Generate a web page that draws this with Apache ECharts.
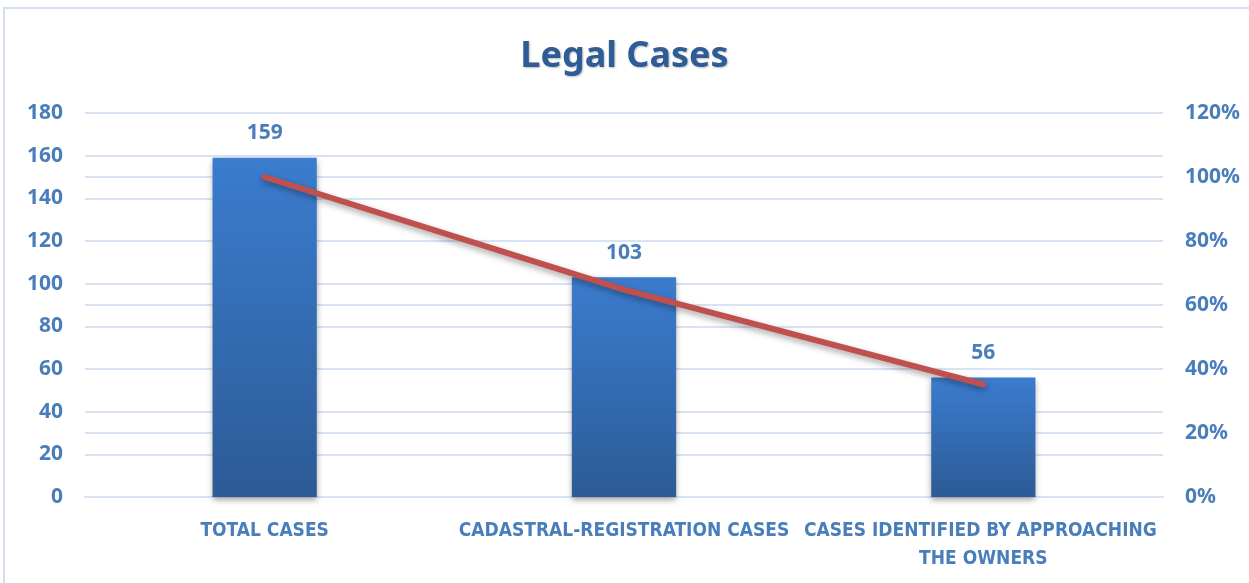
<!DOCTYPE html>
<html>
<head>
<meta charset="utf-8">
<script src="https://cdn.jsdelivr.net/npm/echarts@6/dist/echarts.min.js"></script>
<style>
    html, body { margin: 0; padding: 0; background: #fff; }
    #chart { width: 1249px; height: 583px; }
</style>
</head>
<body>
<div id="chart"></div>
<script>
// Legal Cases chart
var categories = ["TOTAL CASES", "CADASTRAL-REGISTRATION CASES", "CASES IDENTIFIED BY APPROACHING THE OWNERS"];
var caseCounts = [159, 103, 56];
var caseShares = [1.00, 0.648, 0.352];
var leftTicks = { min: 0, max: 180, interval: 20 };
var rightTicks = { min: 0, max: 1.2, interval: 0.2 };

var labelFont = "'DejaVu Sans Condensed', 'Liberation Sans Narrow', 'Noto Sans', sans-serif";
var labelColor = "#4a7ebb";
var gridColor = "#d8e4f3";

var myChart = echarts.init(document.getElementById('chart'));

var option = {
    animation: false,
    backgroundColor: "#fff",
    title: {
        text: "Legal Cases",
        left: "center",
        top: 34,
        textStyle: {
            fontFamily: "'Noto Sans', sans-serif",
            fontSize: 36,
            fontWeight: "bold",
            color: "#2e5c97",
            textShadowColor: "rgba(0,0,0,0.25)",
            textShadowBlur: 2,
            textShadowOffsetX: 1,
            textShadowOffsetY: 1
        }
    },
    graphic: [{
        type: "rect",
        shape: { x: 4, y: 8, width: 1300, height: 600 },
        style: { fill: "none", stroke: "#d4e0ef", lineWidth: 2 },
        silent: true
    }],
    grid: {
        left: 85,
        right: 86,
        top: 113,
        bottom: 86
    },
    xAxis: [{
        type: "category",
        data: categories,
        axisLine: { lineStyle: { color: gridColor, width: 2 } },
        axisTick: { show: false },
        axisLabel: {
            interval: 0,
            margin: 20,
            width: 380,
            overflow: "break",
            lineHeight: 28,
            fontFamily: labelFont,
            fontSize: 19,
            fontWeight: "bold",
            color: labelColor
        }
    }],
    yAxis: [{
        type: "value",
        min: leftTicks.min,
        max: leftTicks.max,
        interval: leftTicks.interval,
        position: "left",
        axisLine: { show: false },
        axisTick: { show: false },
        axisLabel: {
            margin: 22,
            fontFamily: "'Noto Sans', sans-serif",
            fontSize: 21,
            fontWeight: "bold",
            color: labelColor
        },
        splitLine: { lineStyle: { color: gridColor, width: 2 } }
    }, {
        type: "value",
        min: rightTicks.min,
        max: rightTicks.max,
        interval: rightTicks.interval,
        position: "right",
        axisLine: { show: false },
        axisTick: { show: false },
        axisLabel: {
            margin: 22,
            fontFamily: "'Noto Sans', sans-serif",
            fontSize: 21,
            fontWeight: "bold",
            color: labelColor,
            formatter: function (v) {
                return Math.round(v * 100) + "%";
            }
        },
        splitLine: { lineStyle: { color: gridColor, width: 2 } }
    }],
    series: [{
        name: "Cases",
        type: "bar",
        yAxisIndex: 0,
        barWidth: "29%",
        itemStyle: {
            color: new echarts.graphic.LinearGradient(0, 0, 0, 1, [
                { offset: 0, color: "#3b7cce" },
                { offset: 1, color: "#2c5b96" }
            ]),
            shadowColor: "rgba(0,0,0,0.35)",
            shadowBlur: 6,
            shadowOffsetY: 3
        },
        label: {
            show: true,
            position: "top",
            distance: 14,
            fontFamily: "'Noto Sans', sans-serif",
            fontSize: 21,
            fontWeight: "bold",
            color: labelColor
        },
        data: caseCounts
    }, {
        name: "Share",
        type: "line",
        yAxisIndex: 1,
        symbol: "none",
        lineStyle: {
            width: 6,
            color: "#c0504d",
            cap: "round",
            shadowColor: "rgba(0,0,0,0.35)",
            shadowBlur: 6,
            shadowOffsetY: 3
        },
        z: 5,
        data: caseShares
    }]
};
myChart.setOption(option);
</script>
</body>
</html>
